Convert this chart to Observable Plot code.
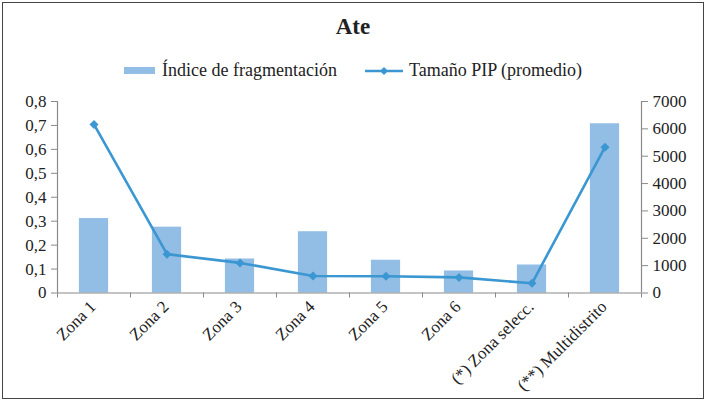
<!DOCTYPE html>
<html><head><meta charset="utf-8">
<script src="https://cdn.jsdelivr.net/npm/d3@7"></script>
<script src="https://cdn.jsdelivr.net/npm/@observablehq/plot@0.6"></script>
<style>
body{margin:0;background:#fff;font-family:"Liberation Serif",serif;color:#222;}
#frame{position:absolute;left:2px;top:2px;width:700px;height:395px;border:1.5px solid #444;}
#title{position:absolute;left:0;width:706px;top:14px;text-align:center;font-weight:bold;font-size:23px;}
#legend{position:absolute;left:0;width:706px;top:60px;display:flex;justify-content:center;align-items:center;font-size:18px;}
.sw{display:inline-block;}
#chart{position:absolute;left:0;top:88px;}
</style></head>
<body>
<div id="frame"></div>
<div id="title">Ate</div>
<div id="legend">
  <span class="sw" style="width:31px;height:7px;background:#92bde5;margin-right:7px"></span><span>Índice de fragmentación</span>
  <svg width="38" height="10" style="margin-left:28px;margin-right:6px"><line x1="0" y1="5" x2="38" y2="5" stroke="#3a97d2" stroke-width="2.5"/><path d="M19,1 L23,5 L19,9 L15,5Z" fill="#3a97d2"/></svg><span>Tamaño PIP (promedio)</span>
</div>
<div id="chart"></div>
<script>
const categories = ["Zona 1","Zona 2","Zona 3","Zona 4","Zona 5","Zona 6","(*) Zona selecc.","(**) Multidistrito"];
const fragmentacion = [0.311, 0.275, 0.142, 0.256, 0.137, 0.092, 0.117, 0.707];
const tamanoPIP = [6160, 1420, 1100, 620, 610, 570, 355, 5330];
const leftTicks = [0,0.1,0.2,0.3,0.4,0.5,0.6,0.7,0.8];
const rightTicks = [0,1000,2000,3000,4000,5000,6000,7000];
const rightMax = 7000, leftMax = 0.8;

const data = categories.map((c,i)=>({i, c, f: fragmentacion[i], p: tamanoPIP[i], py: tamanoPIP[i]/rightMax*leftMax}));
const axisColor = "#8a8a8a";
const barColor = "#92bde5";
const lineColor = "#3a97d2";

const chart = Plot.plot({
  width: 706, height: 310,
  marginLeft: 57, marginRight: 65, marginTop: 13, marginBottom: 105.5,
  style: {fontFamily: '"Liberation Serif",serif', fontSize: "17px", color: "#222", background: "transparent", overflow: "visible"},
  x: {type: "linear", domain: [-0.5, 7.5], axis: null},
  y: {domain: [0, leftMax], axis: null},
  marks: [
    Plot.rectY(data, {x1: d => d.i - 0.2, x2: d => d.i + 0.2, y1: 0, y2: "f", fill: barColor}),
    Plot.ruleY([0], {stroke: axisColor, strokeWidth: 1.2}),
    Plot.ruleX([-0.5], {stroke: axisColor, strokeWidth: 1.2}),
    Plot.ruleX([7.5], {stroke: axisColor, strokeWidth: 1.2}),
    Plot.axisY(leftTicks, {anchor: "left", tickSize: 6, tickPadding: 5, stroke: axisColor, label: null,
      tickFormat: d => d === 0 ? "0" : d.toFixed(1).replace(".", ","), fill: "#222"}),
    Plot.axisY(rightTicks.map(v => v/rightMax*leftMax), {anchor: "right", tickSize: 6, tickPadding: 5, stroke: axisColor, label: null,
      tickFormat: d => String(Math.round(d/leftMax*rightMax)), fill: "#222", textAnchor: "start"}),
    Plot.axisX(d3.range(-0.5, 8, 1), {anchor: "bottom", tickSize: 5, tickFormat: () => "", stroke: axisColor, label: null}),
    Plot.axisX(d3.range(0, 8), {anchor: "bottom", tickSize: 0, tickRotate: -45, tickPadding: 11, dx: -1,
      tickFormat: i => categories[i], label: null, fill: "#222"}),
    Plot.line(data, {x: "i", y: "py", stroke: lineColor, strokeWidth: 2.6}),
    Plot.dot(data, {x: "i", y: "py", symbol: "square", rotate: 45, r: 3.6, fill: lineColor, stroke: "none"})
  ]
});
document.getElementById("chart").appendChild(chart);
</script>
</body></html>
